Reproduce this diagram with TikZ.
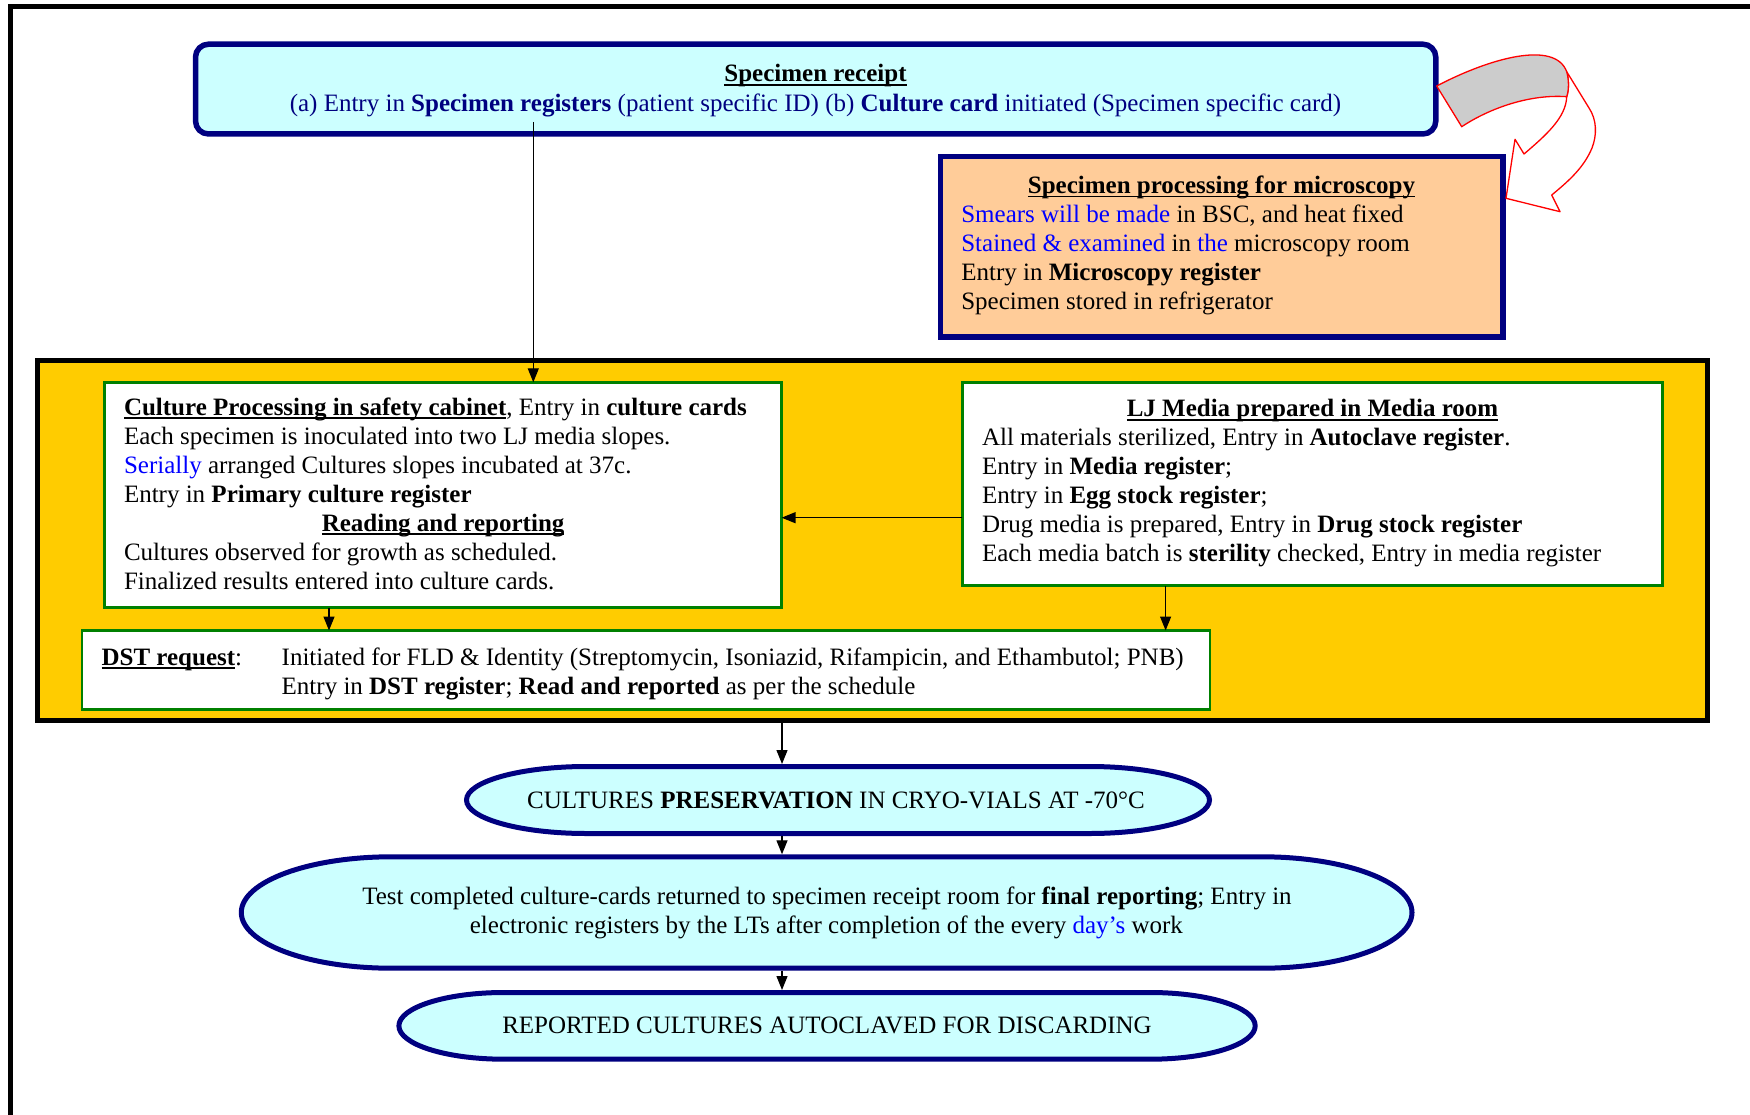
\documentclass[tikz,border=0pt]{standalone}
\usepackage{fontspec}
\setmainfont{Liberation Serif}
\usetikzlibrary{arrows.meta}
\definecolor{navyc}{RGB}{0,0,128}
\definecolor{cyanfill}{RGB}{204,255,255}
\definecolor{peach}{RGB}{255,204,153}
\definecolor{goldfill}{RGB}{255,204,0}
\definecolor{greenc}{RGB}{0,128,0}
\definecolor{bluec}{RGB}{0,0,255}
\definecolor{redc}{RGB}{255,0,0}
\definecolor{grayfill}{RGB}{204,204,204}
\newcommand{\uln}[1]{\leavevmode\setbox0\hbox{#1}\rlap{\rule[-4pt]{\wd0}{1.8pt}}\box0}
\newcommand{\termshape}[5]{%
 \pgfmathsetmacro{\tmXa}{#1}\pgfmathsetmacro{\tmYa}{#2}%
 \pgfmathsetmacro{\tmXb}{#3}\pgfmathsetmacro{\tmYb}{#4}%
 \pgfmathsetmacro{\tmR}{#5}%
 \pgfmathsetmacro{\tmRy}{(\tmYb-\tmYa)/2}\pgfmathsetmacro{\tmCy}{(\tmYa+\tmYb)/2}%
 \pgfmathsetmacro{\tmK}{0.5523}%
 \draw[termstyle] (\tmXa+\tmR,\tmYa) -- (\tmXb-\tmR,\tmYa)
   .. controls (\tmXb-\tmR+\tmK*\tmR,\tmYa) and (\tmXb,\tmCy-\tmK*\tmRy) .. (\tmXb,\tmCy)
   .. controls (\tmXb,\tmCy+\tmK*\tmRy) and (\tmXb-\tmR+\tmK*\tmR,\tmYb) .. (\tmXb-\tmR,\tmYb)
   -- (\tmXa+\tmR,\tmYb)
   .. controls (\tmXa+\tmR-\tmK*\tmR,\tmYb) and (\tmXa,\tmCy+\tmK*\tmRy) .. (\tmXa,\tmCy)
   .. controls (\tmXa,\tmCy-\tmK*\tmRy) and (\tmXa+\tmR-\tmK*\tmR,\tmYa) .. cycle;}
\begin{document}
\begin{tikzpicture}[x=1pt,y=-1pt,
  every node/.style={inner sep=0pt, outer sep=0pt, font=\fontsize{25}{29}\selectfont},
  termstyle/.style={draw=navyc, line width=5pt, fill=cyanfill},
  greenbox/.style={draw=greenc, line width=2.5pt, fill=white},
  conn/.style={draw, line width=1.3pt, -{Triangle[width=11pt,length=14pt]}},
  curvarrow/.style={draw=redc, line width=1.3pt, line join=round}]
\useasboundingbox (0,0) rectangle (1750,1115);
\fill[white] (0,0) rectangle (1750,1115);
% outer frame
\draw[line width=5pt] (10.8,1115) -- (10.8,6.7) -- (1750,6.7);

% specimen receipt
\node[draw=navyc, line width=5.5pt, fill=cyanfill, rounded corners=13pt,
      minimum width=1240.3pt, minimum height=89.8pt] (sr) at (815.65,89.1) {};
\node[anchor=base] (srT) at (815.5,82) {\textbf{\uln{Specimen receipt}}};
\node[anchor=base, text=navyc] (srL) at (815.5,111.7) {(a) Entry in \textbf{Specimen registers} (patient specific ID) (b) \textbf{Culture card} initiated (Specimen specific card)};

% microscopy
\node[draw=navyc, line width=5.5pt, fill=peach,
      minimum width=562.5pt, minimum height=180.3pt] (mic) at (1221.75,246.85) {};
\node[anchor=base west] (micT) at (961.3,193.5) {\begin{minipage}[t]{520.4pt}
\centerline{\textbf{\uln{Specimen processing for microscopy}}}
{\color{bluec}Smears will be made} in BSC, and heat fixed\\
{\color{bluec}Stained \& examined} in {\color{bluec}the} microscopy room\\
Entry in \textbf{Microscopy register}\\
Specimen stored in refrigerator
\end{minipage}};

% curved block arrow
\coordinate (caA) at (1436.7,86);
\coordinate (caB) at (1566.7,71.7);
\coordinate (caC) at (1566.7,96.7);
\coordinate (caD) at (1461.7,126.7);
\draw[curvarrow, fill=white] (caB) -- (1589,108) .. controls (1597,120) and (1597,135) .. (1592,148)
  .. controls (1584,167) and (1570,180) .. (1551.7,195) -- (1560,211.7) -- (1506,198.3)
  -- (1515,139.3) -- (1524,154) .. controls (1545,136) and (1566,118) .. (caC)
  .. controls (1569,90) and (1569,80) .. (caB) -- cycle;
\draw[curvarrow, fill=grayfill] (caA) .. controls (1490,58) and (1555,40) .. (caB)
  .. controls (1569,80) and (1569,90) .. (caC)
  .. controls (1530,94) and (1490,108) .. (caD) -- cycle;

% container
\node[draw=black, line width=5pt, fill=goldfill,
      minimum width=1670.2pt, minimum height=360.8pt] (cont) at (872.4,540.4) {};

% culture processing
\node[greenbox, minimum width=677pt, minimum height=225.4pt] (cult) at (443.1,495) {};
\node[anchor=base west] (cultT) at (124,415) {\begin{minipage}[t]{638.2pt}
\mbox{\textbf{\uln{Culture Processing in safety cabinet}}, Entry in \textbf{culture cards}}\\
Each specimen is inoculated into two LJ media slopes.\\
{\color{bluec}Serially} arranged Cultures slopes incubated at 37c.\\
Entry in \textbf{Primary culture register}\par
\centerline{\textbf{\uln{Reading and reporting}}}
Cultures observed for growth as scheduled.\\
Finalized results entered into culture cards.
\end{minipage}};

% LJ media
\node[greenbox, minimum width=700.3pt, minimum height=203.4pt] (lj) at (1312.45,484) {};
\node[anchor=base west] (ljT) at (982,416.5) {\begin{minipage}[t]{661pt}
\centerline{\textbf{\uln{LJ Media prepared in Media room}}}
All materials sterilized, Entry in \textbf{Autoclave register}.\\
Entry in \textbf{Media register};\\
Entry in \textbf{Egg stock register};\\
Drug media is prepared, Entry in \textbf{Drug stock register}\\
\mbox{Each media batch is \textbf{sterility} checked, Entry in media register}
\end{minipage}};

% DST
\node[greenbox, minimum width=1128.2pt, minimum height=78.8pt] (dst) at (645.9,669.9) {};
\node[anchor=base west] (dstL) at (101.6,665) {\textbf{\uln{DST request}}:};
\node[anchor=base west] (dstT) at (281.7,665) {\begin{minipage}[t]{920pt}
Initiated for FLD \& Identity (Streptomycin, Isoniazid, Rifampicin, and Ethambutol; PNB)\\
Entry in \textbf{DST register}; \textbf{Read and reported} as per the schedule
\end{minipage}};

% terminators
\termshape{466.5}{766.5}{1209.5}{833.5}{120}
\node[minimum width=743pt, minimum height=67pt] (pres) at (838,800) {};
\node[anchor=base] (presT) at (836,808.3) {CULTURES \textbf{PRESERVATION} IN CRYO-VIALS AT -70°C};

\termshape{241.3}{856.8}{1412}{968.2}{150}
\node[minimum width=1170.7pt, minimum height=111.4pt] (fin) at (826.65,912.5) {};
\node[anchor=base] (finT1) at (827,904) {Test completed culture-cards returned to specimen receipt room for \textbf{final reporting}; Entry in};
\node[anchor=base] (finT2) at (826.4,933) {electronic registers by the LTs after completion of the every {\color{bluec}day’s} work};

\termshape{398.9}{992.5}{1255.2}{1059.2}{105}
\node[minimum width=856.3pt, minimum height=66.7pt] (disc) at (827.05,1025.85) {};
\node[anchor=base] (discT) at (827,1033) {REPORTED CULTURES AUTOCLAVED FOR DISCARDING};

% connectors
\coordinate (srdrop) at (533.3,122);
\draw[conn] (srdrop) -- (srdrop |- cult.north);
\coordinate (yLJ) at (0,517.7);
\draw[conn] (lj.west |- yLJ) -- (cult.east |- yLJ);
\coordinate (xA) at (329,0);
\draw[conn] (cult.south -| xA) -- (dst.north -| xA);
\coordinate (xB) at (1165.6,0);
\draw[conn] (lj.south -| xB) -- (dst.north -| xB);
\coordinate (xC) at (782,0);
\draw[conn] ([yshift=-2.5pt]cont.south -| xC) -- ([yshift=2.5pt]pres.north -| xC);
\draw[conn] ([yshift=-2.5pt]pres.south -| xC) -- ([yshift=2.5pt]fin.north -| xC);
\draw[conn] ([yshift=-2.5pt]fin.south -| xC) -- ([yshift=2.5pt]disc.north -| xC);
\end{tikzpicture}
\end{document}
